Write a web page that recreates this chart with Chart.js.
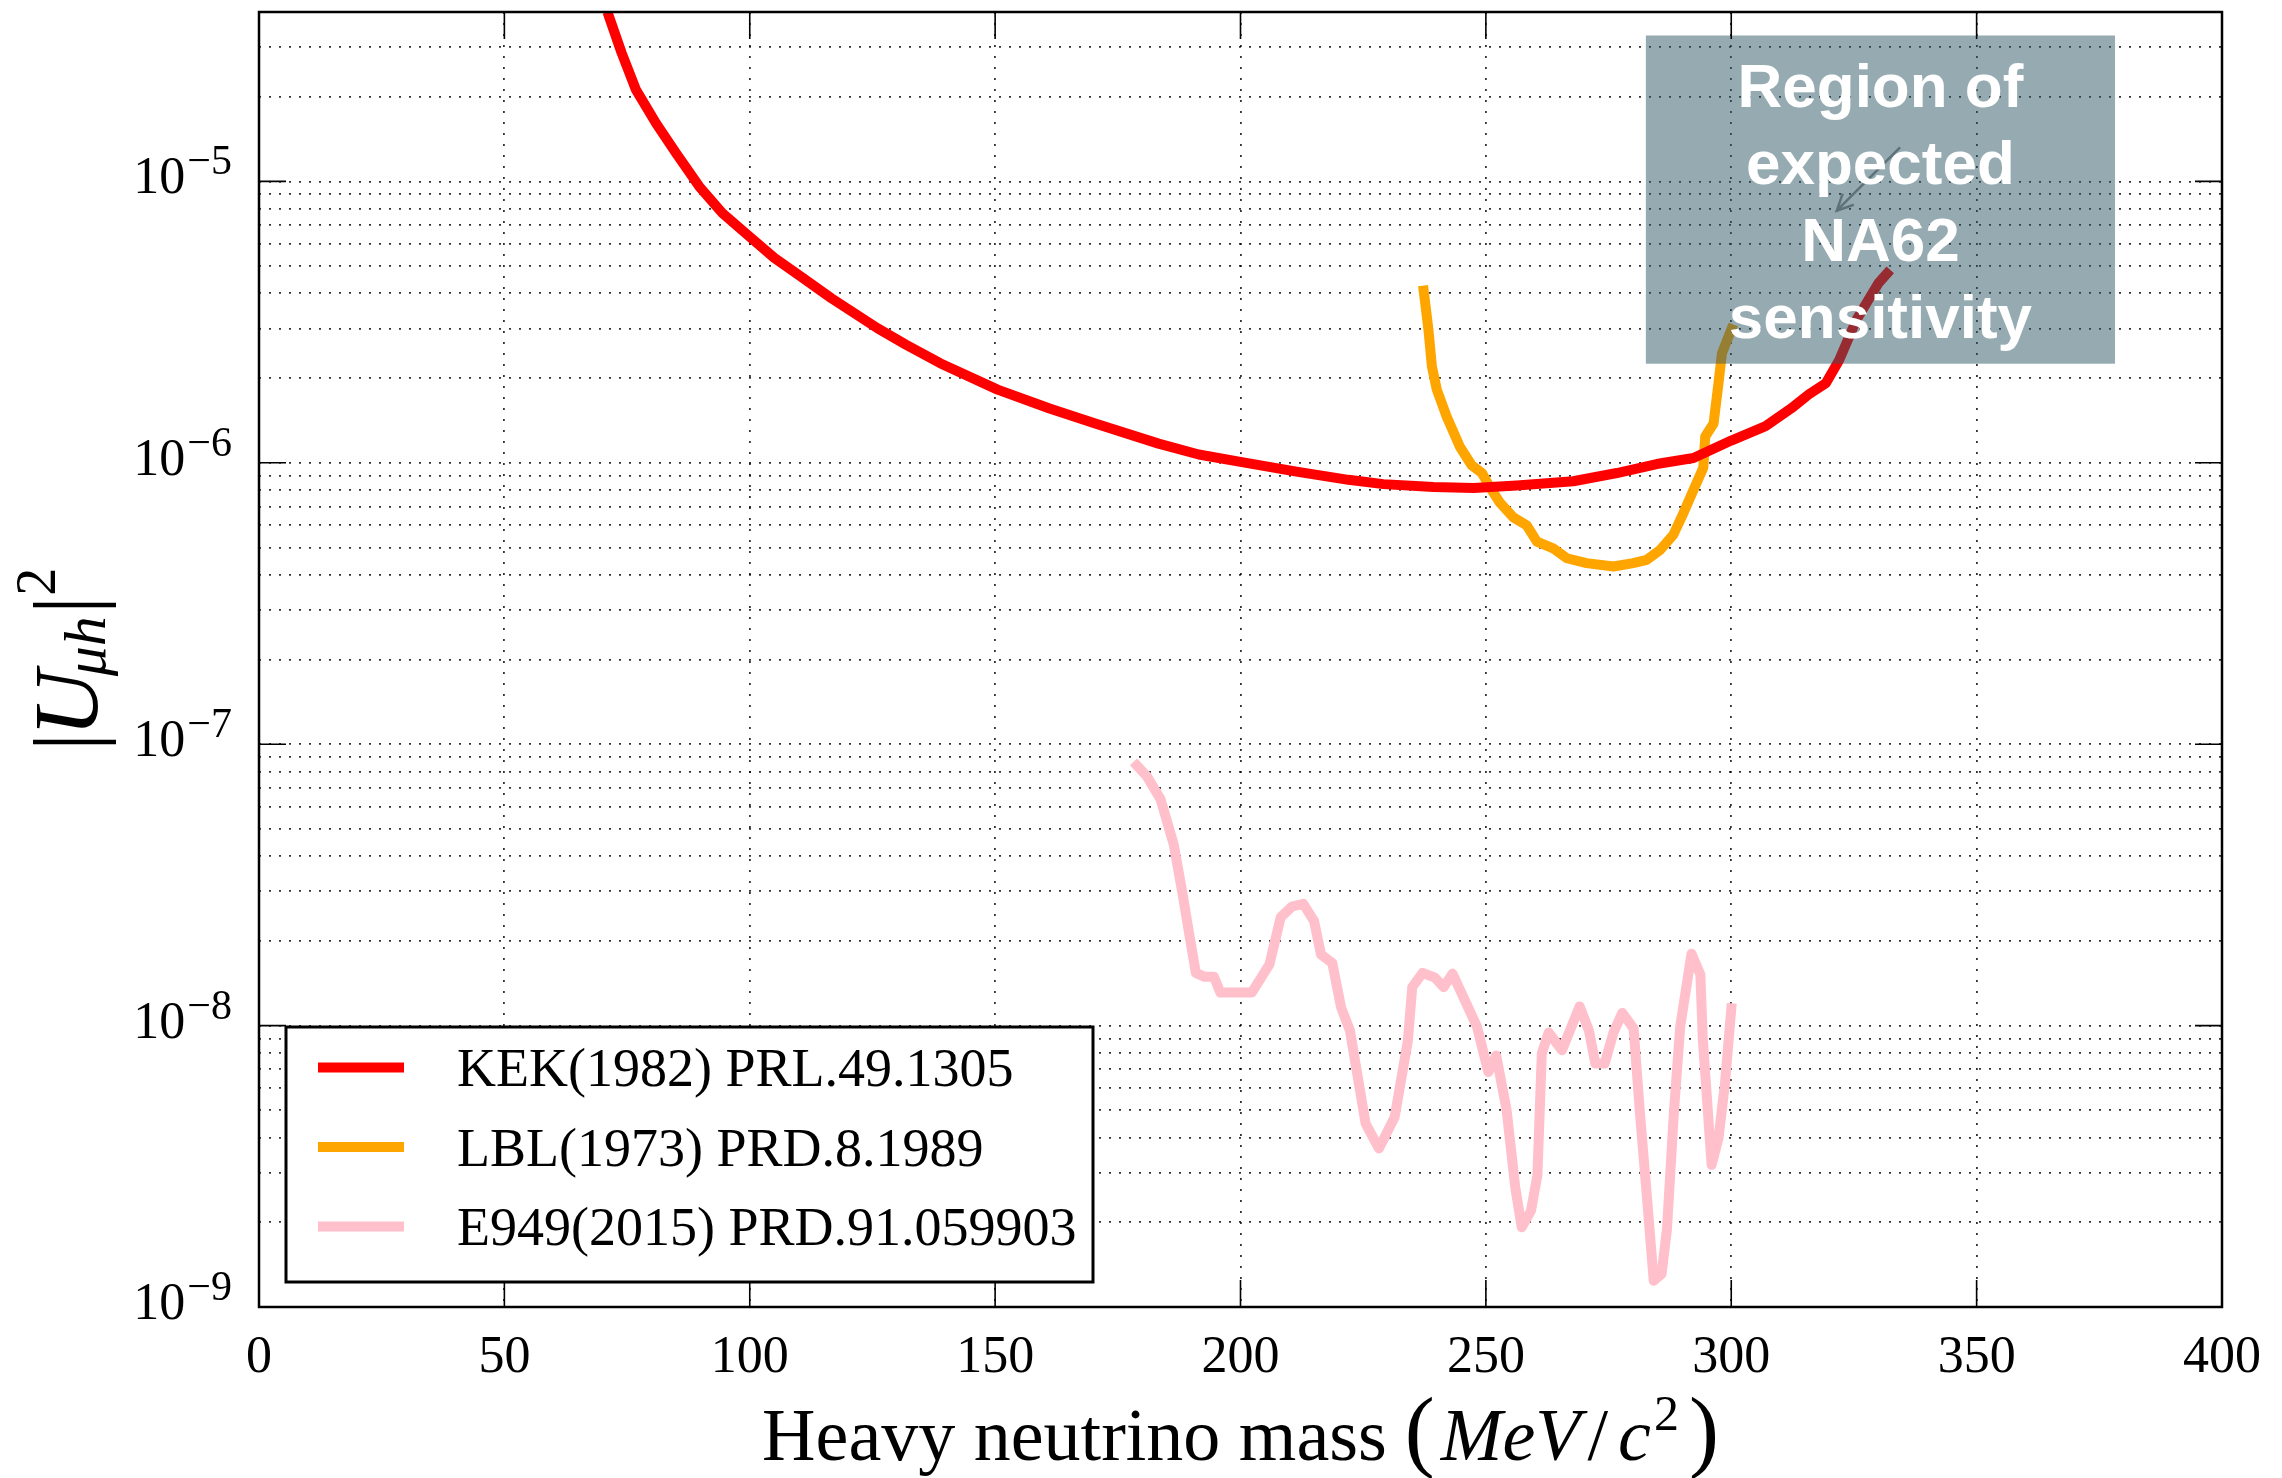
<!DOCTYPE html>
<html>
<head>
<meta charset="utf-8">
<script src="https://cdn.jsdelivr.net/npm/chart.js@4.4.1/dist/chart.umd.min.js"></script>
<style>
  html, body { margin: 0; padding: 0; background: #fff; }
</style>
</head>
<body>
<canvas id="myChart" width="2282" height="1478"></canvas>
<script>
// KEK(1982) PRL.49.1305
const kekMass = [71.0, 73.9, 76.8, 80.9, 85.0, 89.7, 94.4, 99.1, 105.0, 110.8, 116.6, 126.0, 131.8, 138.8, 150.5, 161.1, 170.4, 183.3, 191.5, 199.7, 211.4, 222.0, 229.1, 239.3, 247.5, 256.3, 267.8, 276.7, 284.8, 292.3, 300.0, 307.0, 312.2, 315.8, 319.3, 322.0, 325.5, 330.0, 332.4];
const kekU2 = [4.0e-5, 2.86e-5, 2.12e-5, 1.61e-5, 1.26e-5, 9.6e-6, 7.72e-6, 6.56e-6, 5.35e-6, 4.54e-6, 3.85e-6, 3.01e-6, 2.63e-6, 2.26e-6, 1.82e-6, 1.56e-6, 1.38e-6, 1.17e-6, 1.07e-6, 1.01e-6, 9.3e-7, 8.7e-7, 8.4e-7, 8.2e-7, 8.13e-7, 8.3e-7, 8.6e-7, 9.2e-7, 9.9e-7, 1.04e-6, 1.2e-6, 1.35e-6, 1.56e-6, 1.75e-6, 1.92e-6, 2.32e-6, 3.22e-6, 4.35e-6, 4.85e-6];

// LBL(1973) PRD.8.1989
const lblMass = [237.2, 238.3, 239.0, 240.0, 242.0, 244.7, 247.1, 249.2, 250.8, 252.9, 255.6, 258.3, 260.4, 263.7, 266.5, 270.5, 276.0, 280.0, 282.8, 285.5, 288.2, 290.2, 292.3, 294.3, 294.7, 296.4, 297.4, 298.1, 300.4];
const lblU2 = [4.26e-6, 2.97e-6, 2.2e-6, 1.82e-6, 1.46e-6, 1.14e-6, 9.8e-7, 9.2e-7, 8.2e-7, 7.2e-7, 6.4e-7, 6.0e-7, 5.25e-7, 4.97e-7, 4.58e-7, 4.4e-7, 4.28e-7, 4.4e-7, 4.52e-7, 4.9e-7, 5.55e-7, 6.6e-7, 8.0e-7, 9.6e-7, 1.24e-6, 1.38e-6, 1.92e-6, 2.45e-6, 3.1e-6];

// E949(2015) PRD.91.059903
const e949Mass = [178.2, 180.9, 183.7, 186.4, 188.2, 189.6, 190.9, 192.7, 194.6, 195.9, 202.3, 205.9, 208.2, 210.5, 212.8, 215.0, 216.4, 218.7, 220.5, 222.3, 225.5, 228.2, 231.4, 234.1, 235.0, 237.1, 239.6, 241.4, 243.2, 246.0, 248.2, 250.5, 252.1, 254.2, 256.0, 257.3, 259.2, 260.5, 261.4, 262.8, 265.5, 269.1, 271.0, 272.3, 274.2, 276.0, 277.8, 280.1, 281.4, 282.8, 284.2, 285.8, 286.9, 288.3, 289.6, 291.9, 293.7, 294.2, 296.0, 297.4, 298.7, 300.1];
const e949U2 = [8.65e-8, 7.7e-8, 6.38e-8, 4.4e-8, 2.93e-8, 2.09e-8, 1.54e-8, 1.49e-8, 1.49e-8, 1.31e-8, 1.31e-8, 1.65e-8, 2.43e-8, 2.65e-8, 2.71e-8, 2.35e-8, 1.79e-8, 1.67e-8, 1.16e-8, 9.6e-9, 4.48e-9, 3.66e-9, 4.72e-9, 8.83e-9, 1.37e-8, 1.54e-8, 1.48e-8, 1.37e-8, 1.53e-8, 1.2e-8, 9.9e-9, 6.84e-9, 7.83e-9, 5.05e-9, 2.65e-9, 1.92e-9, 2.2e-9, 2.94e-9, 7.97e-9, 9.45e-9, 8.17e-9, 1.17e-8, 9.6e-9, 7.33e-9, 7.33e-9, 9.45e-9, 1.11e-8, 9.77e-9, 4.88e-9, 2.48e-9, 1.24e-9, 1.31e-9, 1.89e-9, 4.88e-9, 9.93e-9, 1.8e-8, 1.52e-8, 8.97e-9, 3.2e-9, 3.98e-9, 6.18e-9, 1.2e-8];

// axes
const massTicks = [0, 50, 100, 150, 200, 250, 300, 350, 400];
const decadeExponents = [-9, -8, -7, -6, -5];
const mantissas = [1, 2, 3, 4, 5, 6, 7, 8, 9];
const yMin = 1e-9;
const yMax = 4e-5;

// "Region of expected NA62 sensitivity" box, in data units
const region = { xMin: 282.6, xMax: 378.2, yMin: 2.25e-6, yMax: 3.3e-5 };
const regionText = ['Region of', 'expected', 'NA62', 'sensitivity'];
const arrowFrom = { x: 334.4, y: 1.32e-5 };
const arrowTo = { x: 321.5, y: 7.87e-6 };

const serif = '"Liberation Serif", "Times New Roman", serif';
const sans = '"Liberation Sans", Arial, sans-serif';

const toPoints = (xs, ys) => xs.map((x, i) => ({ x, y: ys[i] }));

const yGridValues = [];
decadeExponents.forEach(e => {
  mantissas.forEach(m => {
    const v = parseFloat(m + 'e' + e);
    if (v <= yMax + 1e-12) yGridValues.push(v);
  });
});

// draws pieces of text one after another: [text, font, dy, gapAfter]
function drawRun(ctx, parts, x0, y0) {
  let x = x0;
  parts.forEach(p => {
    ctx.font = p[1];
    ctx.fillText(p[0], x, y0 + p[2]);
    x += ctx.measureText(p[0]).width + p[3];
  });
}
function runWidth(ctx, parts) {
  let w = 0;
  parts.forEach((p, i) => {
    ctx.font = p[1];
    w += ctx.measureText(p[0]).width + (i < parts.length - 1 ? p[3] : 0);
  });
  return w;
}

const xTitleParts = [
  ['Heavy neutrino mass', '74px ' + serif, 0, 18],
  ['(', '90px ' + serif, 0, 6],
  ['MeV', 'italic 74px ' + serif, 0, 7],
  ['/', '74px ' + serif, 0, 10],
  ['c', 'italic 74px ' + serif, 0, 3],
  ['2', '50px ' + serif, -30, 10],
  [')', '90px ' + serif, 0, 0]
];
const yTitleParts = [
  ['|', '92px ' + serif, 0, -4],
  ['U', 'italic 92px ' + serif, 0, -6],
  ['\u03bch', 'italic 60px ' + serif, 8, 2],
  ['|', '92px ' + serif, 0, 0],
  ['2', '56px ' + serif, -42, 0]
];

const decor = {
  id: 'decor',
  afterDatasetsDraw(chart) {
    const { ctx, scales: { x, y } } = chart;
    const l = x.getPixelForValue(region.xMin), r = x.getPixelForValue(region.xMax);
    const t = y.getPixelForValue(region.yMax), b = y.getPixelForValue(region.yMin);
    ctx.save();
    ctx.fillStyle = 'rgba(45, 88, 100, 0.5)';
    ctx.fillRect(l, t, r - l, b - t);

    // little arrow inside the box
    const ax0 = x.getPixelForValue(arrowFrom.x), ay0 = y.getPixelForValue(arrowFrom.y);
    const ax1 = x.getPixelForValue(arrowTo.x), ay1 = y.getPixelForValue(arrowTo.y);
    ctx.strokeStyle = '#5d7379';
    ctx.lineWidth = 2.5;
    ctx.beginPath();
    ctx.moveTo(ax0, ay0);
    ctx.lineTo(ax1, ay1);
    const ang = Math.atan2(ay1 - ay0, ax1 - ax0);
    ctx.moveTo(ax1 - 18 * Math.cos(ang - 0.45), ay1 - 18 * Math.sin(ang - 0.45));
    ctx.lineTo(ax1, ay1);
    ctx.lineTo(ax1 - 18 * Math.cos(ang + 0.45), ay1 - 18 * Math.sin(ang + 0.45));
    ctx.stroke();

    ctx.fillStyle = '#fff';
    ctx.font = 'bold 62px ' + sans;
    ctx.textAlign = 'center';
    ctx.textBaseline = 'alphabetic';
    regionText.forEach((s, i) => ctx.fillText(s, (l + r) / 2, t + 71 + i * 77.3));
    ctx.restore();
  },
  afterDraw(chart) {
    const { ctx, chartArea: a, scales: { x, y } } = chart;
    ctx.save();

    // frame and inner major ticks
    ctx.strokeStyle = '#000';
    ctx.lineWidth = 2.5;
    ctx.strokeRect(a.left, a.top, a.right - a.left, a.bottom - a.top);
    ctx.lineWidth = 1.6;
    ctx.beginPath();
    massTicks.forEach(v => {
      const px = x.getPixelForValue(v);
      ctx.moveTo(px, a.bottom); ctx.lineTo(px, a.bottom - 27);
      ctx.moveTo(px, a.top); ctx.lineTo(px, a.top + 27);
    });
    decadeExponents.forEach(e => {
      const py = y.getPixelForValue(Math.pow(10, e));
      ctx.moveTo(a.left, py); ctx.lineTo(a.left + 27, py);
      ctx.moveTo(a.right, py); ctx.lineTo(a.right - 27, py);
    });
    ctx.stroke();

    // y tick labels 10^n
    ctx.fillStyle = '#000';
    ctx.textAlign = 'left';
    ctx.textBaseline = 'alphabetic';
    decadeExponents.forEach(e => {
      const py = y.getPixelForValue(Math.pow(10, e));
      const sup = '\u2212' + Math.abs(e);
      ctx.font = '52px ' + serif;
      const w10 = ctx.measureText('10').width;
      ctx.font = '42px ' + serif;
      const ws = ctx.measureText(sup).width;
      const x0 = a.left - 27 - w10 - ws - 2;
      ctx.font = '52px ' + serif;
      ctx.fillText('10', x0, py + 12);
      ctx.font = '42px ' + serif;
      ctx.fillText(sup, x0 + w10 + 2, py - 7);
    });

    // x axis title
    const xw = runWidth(ctx, xTitleParts);
    drawRun(ctx, xTitleParts, (a.left + a.right) / 2 - xw / 2, 1460);

    // y axis title (rotated)
    ctx.save();
    ctx.translate(97, (a.top + a.bottom) / 2);
    ctx.rotate(-Math.PI / 2);
    const yw = runWidth(ctx, yTitleParts);
    drawRun(ctx, yTitleParts, -yw / 2, 0);
    ctx.restore();

    // legend
    const lgL = a.left + 27, lgB = a.bottom - 25, lgW = 807, lgH = 255;
    const lgT = lgB - lgH;
    ctx.fillStyle = '#fff';
    ctx.fillRect(lgL, lgT, lgW, lgH);
    ctx.strokeStyle = '#000';
    ctx.lineWidth = 3;
    ctx.strokeRect(lgL, lgT, lgW, lgH);
    chart.data.datasets.forEach((ds, i) => {
      const ry = lgT + 40.6 + i * 79.5;
      ctx.strokeStyle = ds.borderColor;
      ctx.lineWidth = 10;
      ctx.beginPath();
      ctx.moveTo(lgL + 32, ry);
      ctx.lineTo(lgL + 118, ry);
      ctx.stroke();
      ctx.fillStyle = '#000';
      ctx.font = '54px ' + serif;
      ctx.fillText(ds.label, lgL + 171, ry + 18.5);
    });
    ctx.restore();
  }
};

const lineStyle = { borderWidth: 10, pointRadius: 0, tension: 0, fill: false, borderJoinStyle: 'round' };

new Chart(document.getElementById('myChart'), {
  type: 'line',
  data: {
    datasets: [
      { label: 'KEK(1982) PRL.49.1305', data: toPoints(kekMass, kekU2), borderColor: '#ff0000', ...lineStyle },
      { label: 'LBL(1973) PRD.8.1989', data: toPoints(lblMass, lblU2), borderColor: '#ffa500', ...lineStyle },
      { label: 'E949(2015) PRD.91.059903', data: toPoints(e949Mass, e949U2), borderColor: '#ffc0cb', ...lineStyle }
    ]
  },
  options: {
    responsive: false,
    animation: false,
    devicePixelRatio: 1,
    layout: { padding: { top: 12, right: 60, left: 0, bottom: 0 } },
    plugins: { legend: { display: false }, tooltip: { enabled: false } },
    scales: {
      x: {
        type: 'linear',
        min: 0,
        max: 400,
        afterBuildTicks: s => { s.ticks = massTicks.map(v => ({ value: v })); },
        afterFit: s => { s.height = 171; },
        ticks: { color: '#000', font: { family: serif, size: 52 }, padding: 20, maxRotation: 0 },
        grid: { color: 'rgba(0,0,0,0.8)', lineWidth: 1.8, drawTicks: false },
        border: { display: false, dash: [2, 9] }
      },
      y: {
        type: 'logarithmic',
        min: yMin,
        max: yMax,
        afterBuildTicks: s => { s.ticks = yGridValues.map(v => ({ value: v })); },
        afterFit: s => { s.width = 259; },
        ticks: { display: false },
        grid: { color: 'rgba(0,0,0,0.8)', lineWidth: 1.8, drawTicks: false },
        border: { display: false, dash: [2, 8] }
      }
    }
  },
  plugins: [decor]
});
</script>
</body>
</html>
